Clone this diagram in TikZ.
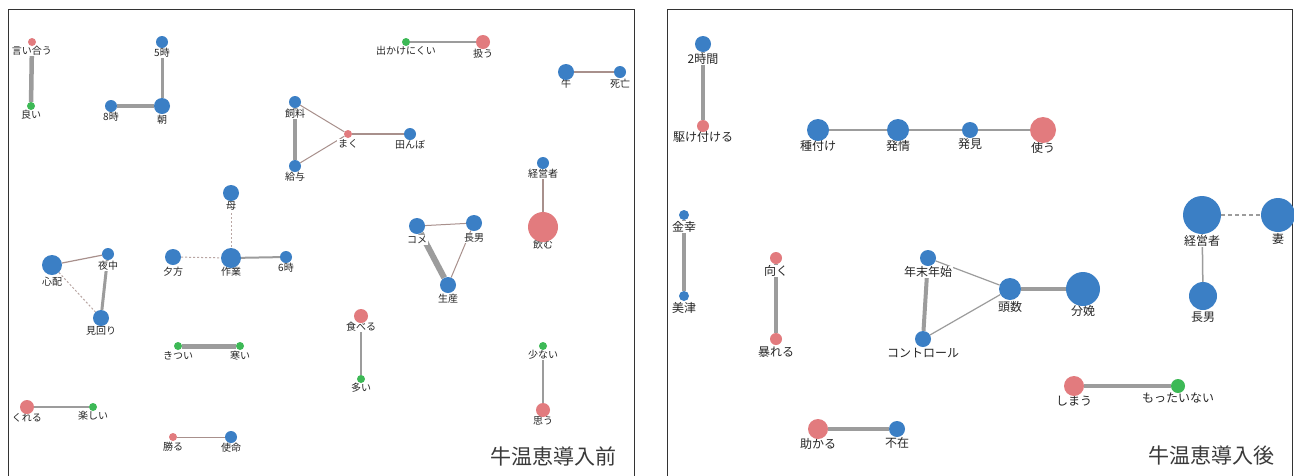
\documentclass[tikz,border=0pt]{standalone}
\usepackage{fontspec}
\newfontfamily\jp{Noto Sans CJK JP}
\definecolor{nblue}{HTML}{3B7FC5}
\definecolor{nred}{HTML}{E27B7E}
\definecolor{ngreen}{HTML}{3DB956}
\definecolor{egray}{HTML}{9C9C9C}
\definecolor{ebrown}{HTML}{A8908C}
\definecolor{framec}{HTML}{333333}
\definecolor{titlec}{HTML}{3A3A3A}
\pgfdeclarelayer{edges}
\pgfdeclarelayer{labs}
\pgfsetlayers{edges,labs,main}
\tikzset{
  vx/.style={circle, inner sep=0pt, draw=none},
  bl/.style={vx, fill=nblue},
  rd/.style={vx, fill=nred},
  gr/.style={vx, fill=ngreen},
  labL/.style={font=\jp\fontsize{10}{10}\selectfont, text=black!85, fill=white, inner sep=0.8pt},
  labR/.style={font=\jp\fontsize{12}{12}\selectfont, text=black!85, fill=white, inner sep=0.8pt},
  eg/.style={draw=egray, line width=#1},
  eb/.style={draw=ebrown, line width=#1},
  ed/.style={draw=ebrown!80, line width=#1, dash pattern=on 2pt off 2pt},
  edR/.style={draw=egray, line width=#1, dash pattern=on 4pt off 3pt},
  frame/.style={draw=framec, line width=1pt},
  title/.style={font=\jp\fontsize{21}{22}\selectfont, text=titlec, inner sep=0pt}
}
% name, x, y, diameter, fill style, label style, label y, text
\newcommand\nd[8]{%
  \node[#5, minimum size=#4pt] (#1) at (#2,#3) {};
  \begin{pgfonlayer}{labs}\node[#6] (#1-l) at (#2,#7) {#8};\end{pgfonlayer}}
\begin{document}
\begin{tikzpicture}[x=1pt, y=-1pt]
\useasboundingbox (0,0) rectangle (1294,475);
\begin{pgfonlayer}{edges}
\fill[white] (0,0) rectangle (1294,475);
\end{pgfonlayer}
% frames
\draw[frame] (8,480) -- (8,9) -- (634,9) -- (634,480);
\draw[frame] (667,480) -- (667,9) -- (1292,9) -- (1292,480);

% ---------------- left panel ----------------
\nd{iiau}{32}{42}{8}{rd}{labL}{51}{言い合う}
\nd{yoi}{31}{106}{8}{gr}{labL}{115}{良い}
\nd{goji}{162}{42}{12}{bl}{labL}{53}{5時}
\nd{asa}{162}{106}{16}{bl}{labL}{120}{朝}
\nd{hachiji}{111}{106}{12}{bl}{labL}{117}{8時}
\nd{shiryo}{295}{102}{12}{bl}{labL}{114}{飼料}
\nd{kyuyo}{295}{166}{12}{bl}{labL}{177}{給与}
\nd{maku}{348}{134}{8}{rd}{labL}{144}{まく}
\nd{tanbo}{410}{134}{12}{bl}{labL}{145}{田んぼ}
\nd{dekake}{406}{42}{8}{gr}{labL}{51}{出かけにくい}
\nd{atsukau}{483}{42}{14}{rd}{labL}{54}{扱う}
\nd{ushi}{566}{72}{16}{bl}{labL}{84}{牛}
\nd{shibo}{620}{72}{12}{bl}{labL}{84}{死亡}
\nd{keieiL}{543}{163}{12}{bl}{labL}{174}{経営者}
\nd{nomu}{543}{227}{30}{rd}{labL}{245}{飲む}
\nd{kome}{417}{226}{16}{bl}{labL}{240}{コメ}
\nd{chonanL}{474}{223}{16}{bl}{labL}{238}{長男}
\nd{seisan}{448}{285}{16}{bl}{labL}{299}{生産}
\nd{haha}{231}{193}{16}{bl}{labL}{206}{母}
\nd{shinpai}{52}{265}{20}{bl}{labL}{282}{心配}
\nd{yonaka}{108}{254}{12}{bl}{labL}{266}{夜中}
\nd{mimawari}{101}{318}{16}{bl}{labL}{331}{見回り}
\nd{yugata}{173}{257}{16}{bl}{labL}{272}{夕方}
\nd{sagyo}{231}{258}{20}{bl}{labL}{272}{作業}
\nd{rokuji}{286}{257}{12}{bl}{labL}{268}{6時}
\nd{kitsui}{178}{346}{8}{gr}{labL}{356}{きつい}
\nd{samui}{240}{346}{8}{gr}{labL}{356}{寒い}
\nd{kureru}{27}{407}{14}{rd}{labL}{418}{くれる}
\nd{tanoshii}{93}{407}{8}{gr}{labL}{416}{楽しい}
\nd{masaru}{173}{437}{8}{rd}{labL}{447}{勝る}
\nd{shimei}{231}{437}{12}{bl}{labL}{448}{使命}
\nd{taberu}{361}{316}{14}{rd}{labL}{327}{食べる}
\nd{ooi}{361}{379}{8}{gr}{labL}{388}{多い}
\nd{sukunai}{543}{346}{8}{gr}{labL}{355}{少ない}
\nd{omou}{543}{410}{14}{rd}{labL}{421}{思う}
\node[title] (titleL) at (553,456) {牛温恵導入前};

% ---------------- right panel ----------------
\nd{nijikan}{703}{44}{16}{bl}{labR}{59}{2時間}
\nd{kaketsuke}{703}{126}{12}{rd}{labR}{137}{駆け付ける}
\nd{tanetsuke}{818}{130}{22}{bl}{labR}{146}{種付け}
\nd{hatsujo}{898}{130}{22}{bl}{labR}{146}{発情}
\nd{hakken}{970}{130}{16}{bl}{labR}{144}{発見}
\nd{tsukau}{1043}{130}{26}{rd}{labR}{148}{使う}
\nd{kinko}{684}{215}{10}{bl}{labR}{227}{金幸}
\nd{mitsu}{684}{296}{10}{bl}{labR}{308}{美津}
\nd{muku}{776}{258}{12}{rd}{labR}{271}{向く}
\nd{abareru}{776}{339}{12}{rd}{labR}{352}{暴れる}
\nd{nenmatsu}{928}{258}{16}{bl}{labR}{272}{年末年始}
\nd{control}{923}{339}{16}{bl}{labR}{353}{コントロール}
\nd{tosu}{1010}{289}{22}{bl}{labR}{307}{頭数}
\nd{bunben}{1083}{289}{34}{bl}{labR}{311}{分娩}
\nd{keieiR}{1202}{215}{38}{bl}{labR}{241}{経営者}
\nd{tsuma}{1278}{215}{34}{bl}{labR}{239}{妻}
\nd{chonanR}{1203}{296}{28}{bl}{labR}{317}{長男}
\nd{tasukaru}{818}{429}{20}{rd}{labR}{444}{助かる}
\nd{fuzai}{897}{429}{16}{bl}{labR}{443}{不在}
\nd{shimau}{1074}{386}{20}{rd}{labR}{401}{しまう}
\nd{mottainai}{1178}{386}{14}{gr}{labR}{398}{もったいない}
\node[title] (titleR) at (1211,456) {牛温恵導入後};

\begin{pgfonlayer}{edges}
\draw[eg=4.5] (iiau) -- (yoi);
\draw[eg=3] (goji) -- (asa);
\draw[eg=3.5] (hachiji) -- (asa);
\draw[eg=4.5] (shiryo) -- (kyuyo);
\draw[eb=1] (shiryo) -- (maku);
\draw[eb=1] (kyuyo) -- (maku);
\draw[eb=1.2] (maku) -- (tanbo);
\draw[eg=2] (dekake) -- (atsukau);
\draw[eb=1.2] (ushi) -- (shibo);
\draw[eb=1.5] (keieiL) -- (nomu);
\draw[eb=1] (kome) -- (chonanL);
\draw[eb=1] (chonanL) -- (seisan);
\draw[eg=6] (kome) -- (seisan);
\draw[ed=1] (haha) -- (sagyo);
\draw[ed=1] (yugata) -- (sagyo);
\draw[eg=2] (sagyo) -- (rokuji);
\draw[eb=1.2] (shinpai) -- (yonaka);
\draw[eg=3] (yonaka) -- (mimawari);
\draw[ed=1] (shinpai) -- (mimawari);
\draw[eg=5] (kitsui) -- (samui);
\draw[eg=2] (kureru) -- (tanoshii);
\draw[eb=1] (masaru) -- (shimei);
\draw[eg=1.5] (taberu) -- (ooi);
\draw[eg=1.5] (sukunai) -- (omou);

\draw[eg=4] (nijikan) -- (kaketsuke);
\draw[eg=1.2] (tanetsuke) -- (hatsujo);
\draw[eg=1.2] (hatsujo) -- (hakken);
\draw[eg=1.2] (hakken) -- (tsukau);
\draw[eg=4] (kinko) -- (mitsu);
\draw[eg=3.5] (muku) -- (abareru);
\draw[eg=4] (nenmatsu) -- (control);
\draw[eg=1.2] (nenmatsu) -- (tosu);
\draw[eg=1.2] (control) -- (tosu);
\draw[eg=3.5] (tosu) -- (bunben);
\draw[edR=1.5] (keieiR) -- (tsuma);
\draw[eg=1.5] (keieiR) -- (chonanR);
\draw[eg=4] (tasukaru) -- (fuzai);
\draw[eg=4.5] (shimau) -- (mottainai);
\end{pgfonlayer}
\end{tikzpicture}
\end{document}
